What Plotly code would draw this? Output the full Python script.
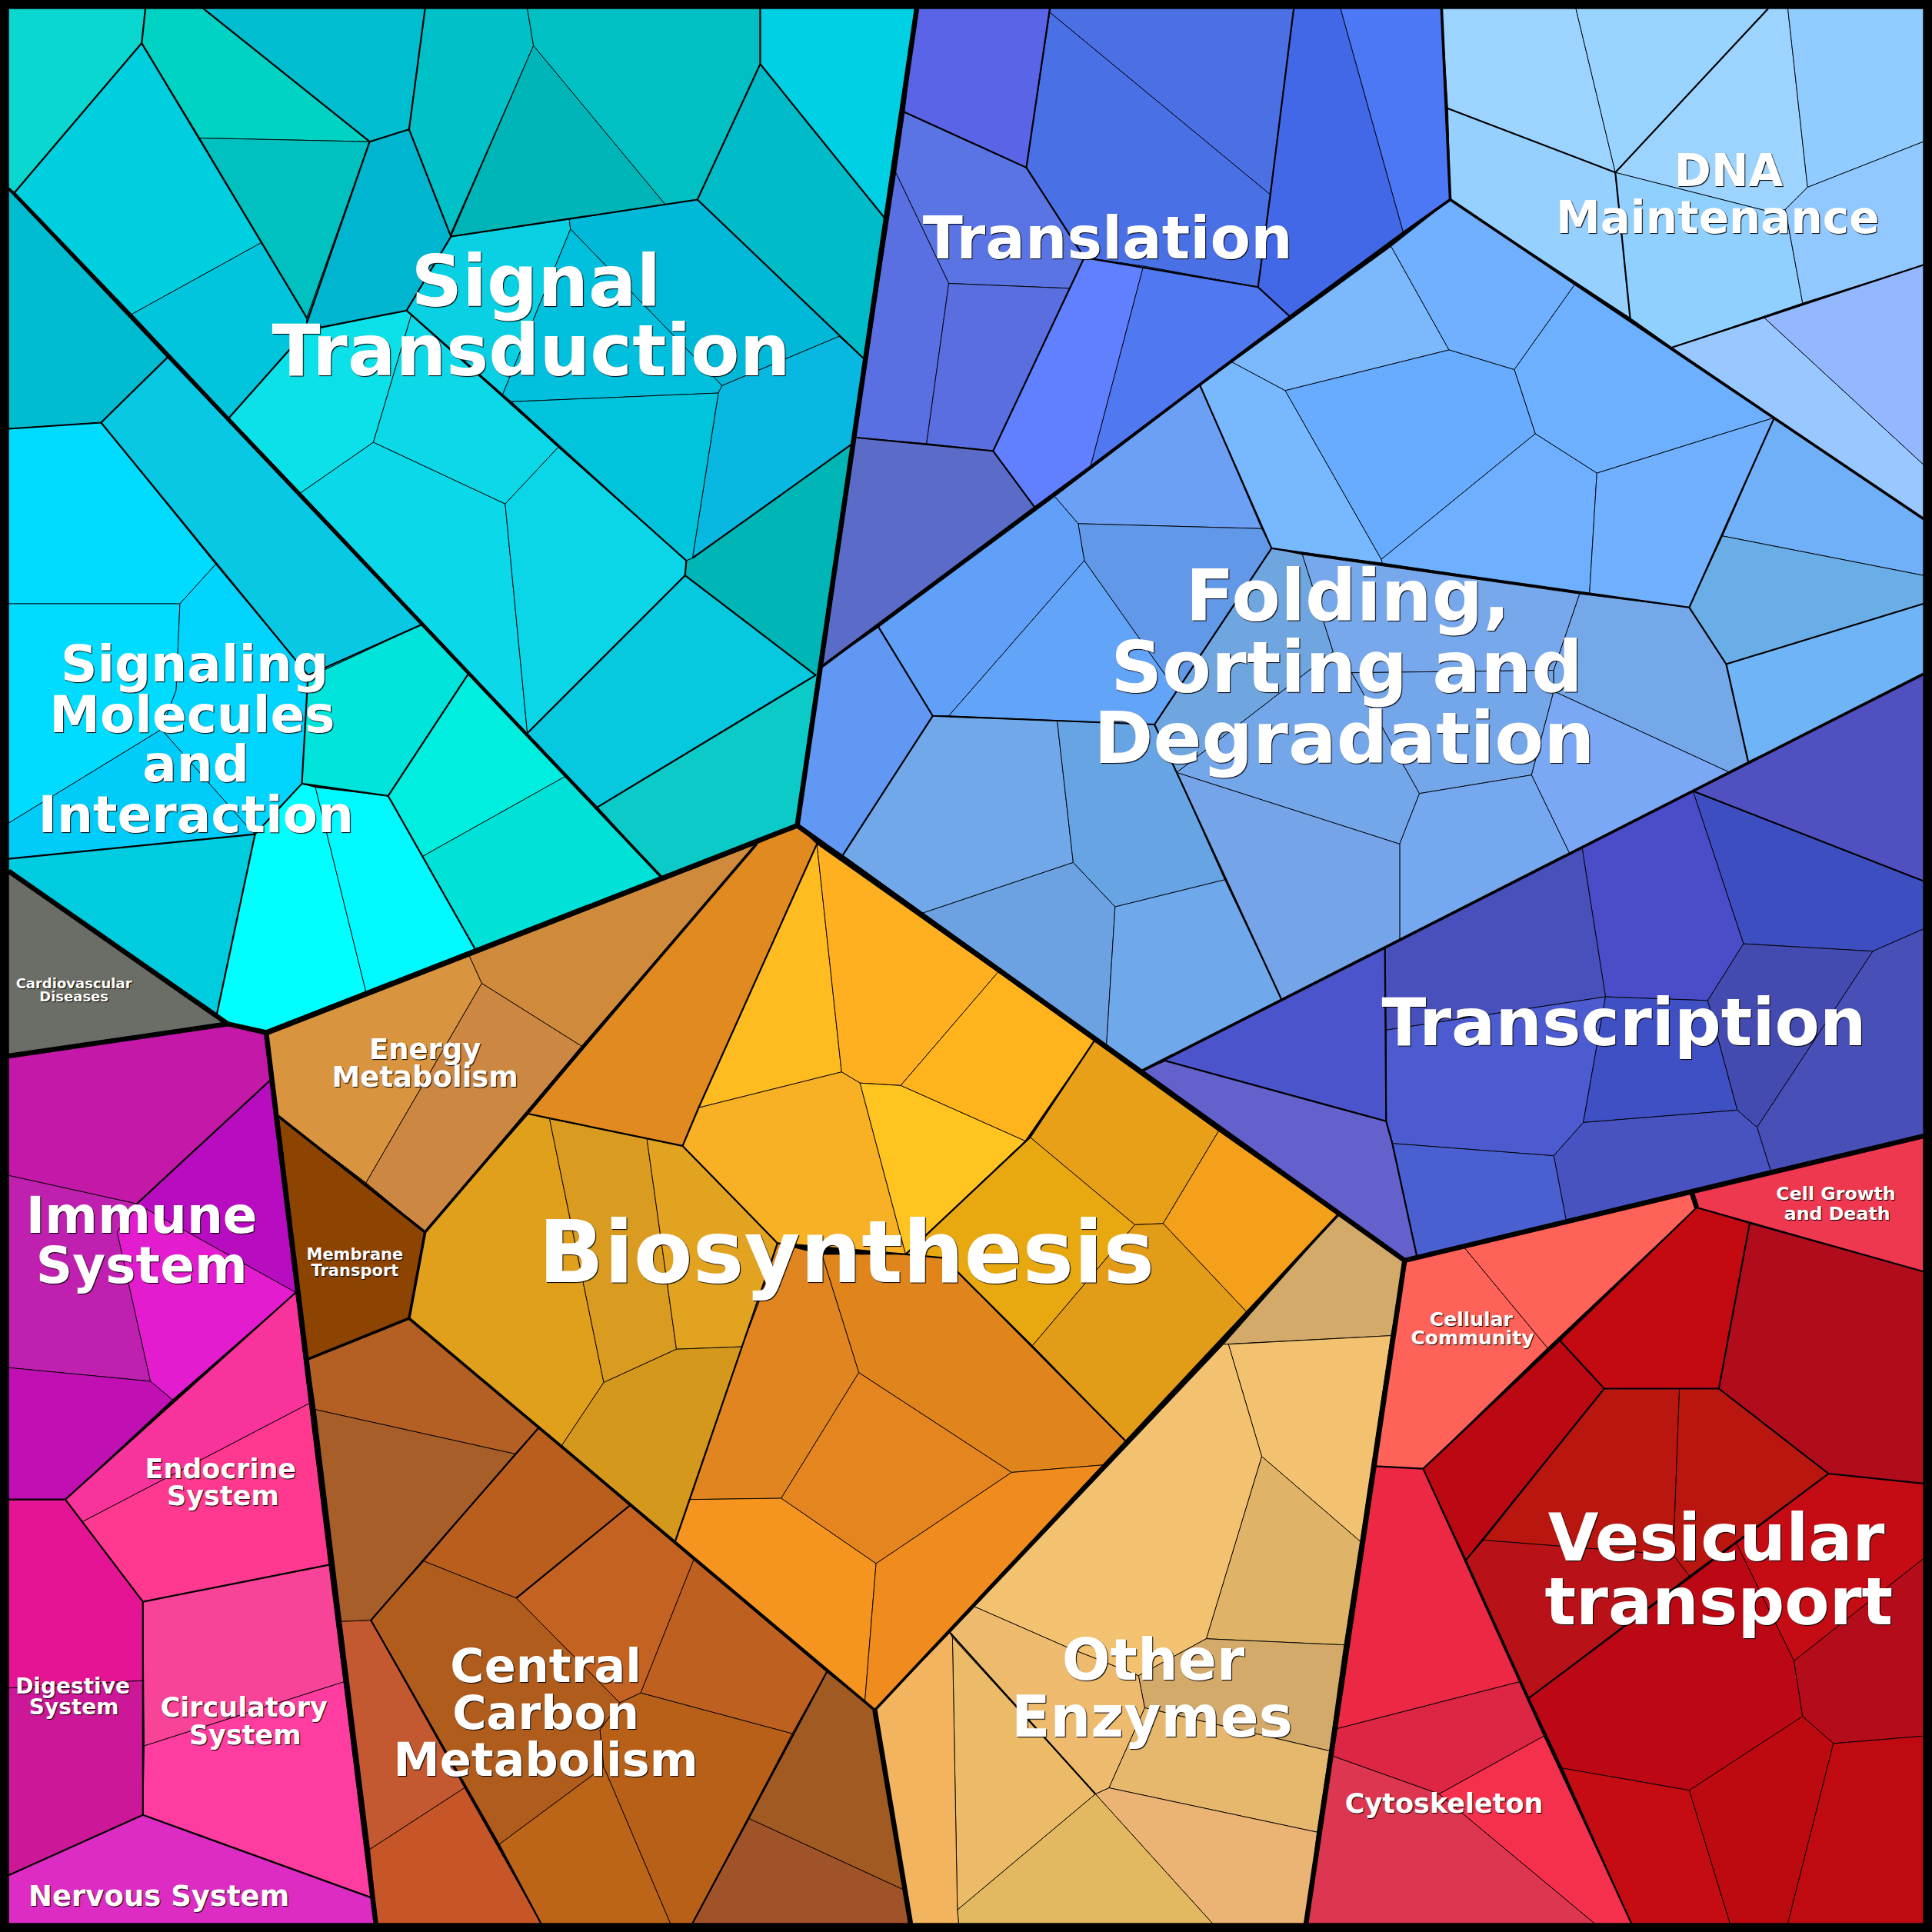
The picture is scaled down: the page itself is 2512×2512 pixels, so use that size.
import plotly.graph_objects as go

# Voronoi treemap of protein functions: each cell is (colour, outline vertices)
signal_cells = [
    ("#0ad8d0", [(7,7),(118,7),(115,35),(12,156),(7,153)]),
    ("#00d2c4", [(118,7),(165,7),(300,115),(162,112),(115,35)]),
    ("#00c0c0", [(162,112),(300,115),(249,258)]),
    ("#00cfe0", [(115,35),(162,112),(212,197),(107,255),(12,156)]),
    ("#00c5dc", [(107,255),(212,197),(249,258),(249,268),(186,339)]),
    ("#00bdd0", [(165,7),(345,7),(332,105),(300,115)]),
    ("#00b5cf", [(300,115),(332,105),(366,192),(330,252),(249,268),(249,258)]),
    ("#00c0c8", [(345,7),(428,7),(433,37),(366,189),(366,192),(332,105)]),
    ("#00b5b8", [(433,37),(540,166),(366,192)]),
    ("#00c0c4", [(428,7),(617,7),(617,52),(566,162),(540,166),(433,37)]),
    ("#00d0e4", [(617,7),(744,7),(718,177),(617,52)]),
    ("#00bcc8", [(617,52),(718,177),(701,291),(566,162)]),
    ("#0ad0e4", [(366,192),(462,178),(463,186),(408,320),(334,255),(330,252)]),
    ("#00b8d8", [(462,178),(566,162),(701,291),(681,273),(586,313),(463,186)]),
    ("#00c0de", [(463,186),(586,313),(583,319),(415,326),(408,320)]),
    ("#08b8e0", [(586,313),(681,273),(701,291),(692,360),(562,453),(583,319)]),
    ("#00c4dc", [(415,326),(583,319),(562,453),(557,455)]),
    ("#00b5b5", [(692,360),(667,545),(662,548),(556,467),(557,455),(562,453)]),
    ("#06c8de", [(556,467),(662,548),(485,655),(428,595)]),
    ("#0ccac8", [(662,548),(667,545),(647,670),(537,712),(485,655)]),
    ("#0ce0e8", [(249,268),(330,252),(334,255),(303,359),(244,400),(186,339)]),
    ("#0cd8e8", [(334,255),(453,363),(410,409),(303,359)]),
    ("#0bd8e8", [(244,400),(303,359),(410,409),(428,595)]),
    ("#0bd6e8", [(453,363),(557,455),(556,467),(428,595),(410,409)]),
]

signaling_cells = [
    ("#00bcd0", [(7,153),(136,290),(82,343),(7,348)]),
    ("#08c8e4", [(136,290),(342,507),(265,543),(250,548),(175,458),(82,343)]),
    ("#00dcff", [(7,348),(82,343),(175,458),(146,490),(7,490)]),
    ("#00dcff", [(7,490),(146,490),(143,560),(131,592),(7,668)]),
    ("#00d4ff", [(146,490),(175,458),(250,548),(245,636),(207,677),(200,670),(131,592),(143,560)]),
    ("#00ccfa", [(7,668),(131,592),(200,670),(207,677),(7,697)]),
    ("#00ccdf", [(7,697),(207,677),(176,823),(7,707)]),
    ("#00e4dc", [(265,543),(342,507),(380,547),(315,646),(245,636),(250,548)]),
    ("#00eee0", [(380,547),(459,630),(343,695),(315,646)]),
    ("#00e2d8", [(343,695),(459,630),(537,712),(386,771)]),
    ("#00ffff", [(245,636),(256,639),(297,805),(216,838),(185,831),(176,823),(207,677)]),
    ("#00f8ff", [(256,639),(315,646),(386,771),(297,805)]),
]

cardio_cells = [
    ("#6b6e66", [(7,707),(176,823),(185,831),(7,857)]),
]

translation_cells = [
    ("#5a64e6", [(744,7),(852,7),(833,136),(734,91)]),
    ("#4a70e4", [(852,7),(1050,7),(1031,158),(852,10)]),
    ("#4a70e6", [(852,10),(1031,158),(1021,233),(928,216),(880,209),(833,136)]),
    ("#4268e8", [(1050,7),(1088,7),(1139,189),(1047,257),(1021,233),(1031,158)]),
    ("#4d78f5", [(1088,7),(1170,7),(1177,162),(1139,189)]),
    ("#5a74e4", [(734,91),(833,136),(880,209),(868,234),(770,230),(727,140)]),
    ("#5a70e2", [(727,140),(770,230),(752,360),(694,355)]),
    ("#5a6ee0", [(770,230),(868,234),(806,366),(752,360)]),
    ("#6080ff", [(880,209),(928,216),(885,379),(840,412),(806,366)]),
    ("#5078f0", [(928,216),(1021,233),(1047,257),(885,379)]),
    ("#5a6cc8", [(694,355),(806,366),(840,412),(667,541)]),
]

dna_cells = [
    ("#9cd4ff", [(1170,7),(1279,7),(1311,140),(1175,88)]),
    ("#98d4ff", [(1279,7),(1435,7),(1311,140)]),
    ("#96d0ff", [(1175,88),(1311,140),(1323,258),(1177,162)]),
    ("#9cd4ff", [(1435,7),(1451,7),(1467,152),(1449,170),(1437,172),(1311,140)]),
    ("#90ccff", [(1451,7),(1561,7),(1561,115),(1467,152)]),
    ("#90d0ff", [(1311,140),(1437,172),(1449,170),(1463,246),(1357,282),(1323,258)]),
    ("#90c8ff", [(1467,152),(1561,115),(1561,215),(1463,246),(1449,170)]),
    ("#98c8ff", [(1357,282),(1432,258),(1561,377),(1561,421)]),
    ("#94b8ff", [(1432,258),(1561,215),(1561,377)]),
]

folding_cells = [
    ("#7cb8fc", [(1000,294),(1129,200),(1176,284),(1043,317)]),
    ("#70b0ff", [(1129,200),(1177,162),(1278,231),(1229,300),(1176,284)]),
    ("#6cb0ff", [(1278,231),(1440,339),(1296,384),(1246,352),(1229,300)]),
    ("#68acff", [(1043,317),(1176,284),(1229,300),(1246,352),(1121,454)]),
    ("#78b8ff", [(1000,294),(1043,317),(1121,454),(1122,457),(1032,445),(974,313)]),
    ("#6eb0ff", [(1246,352),(1296,384),(1290,482),(1122,457),(1121,454)]),
    ("#70b0ff", [(1296,384),(1440,339),(1371,493),(1290,482)]),
    ("#70b0f8", [(1440,339),(1561,421),(1561,467),(1398,435)]),
    ("#6aaee8", [(1398,435),(1561,467),(1561,490),(1401,539),(1371,493)]),
    ("#70b4f8", [(1401,539),(1561,490),(1561,547),(1419,619)]),
    ("#6ba0f4", [(974,313),(1024,429),(875,425),(856,403)]),
    ("#6298e8", [(875,425),(1024,429),(1032,445),(955,561),(880,455)]),
    ("#60a0f8", [(856,403),(875,425),(880,455),(770,581),(757,581),(713,509)]),
    ("#62a4f8", [(770,581),(880,455),(955,561),(937,588)]),
    ("#6098f4", [(667,541),(713,509),(757,581),(684,694),(647,670)]),
    ("#70a8ea", [(757,581),(858,585),(871,700),(749,741),(684,694)]),
    ("#66a4e4", [(858,585),(937,588),(955,627),(994,714),(905,736),(871,700)]),
    ("#6ca2e2", [(749,741),(871,700),(905,736),(898,848)]),
    ("#70a8ec", [(905,736),(994,714),(1040,811),(927,869),(898,848)]),
    ("#6fa6e0", [(1032,445),(1057,450),(1082,529),(955,627),(937,588)]),
    ("#78a8ec", [(1057,450),(1282,482),(1261,544),(1097,546),(1082,529)]),
    ("#74a6ea", [(1082,529),(1097,546),(1152,644),(1136,685),(955,627)]),
    ("#74a6ea", [(1097,546),(1261,544),(1261,561),(1243,629),(1152,644)]),
    ("#74a8e8", [(1282,482),(1371,493),(1401,539),(1419,619),(1404,627),(1261,561),(1261,544)]),
    ("#7aa8f4", [(1261,561),(1404,627),(1274,693),(1243,629)]),
    ("#76a8f0", [(1152,644),(1243,629),(1274,693),(1136,763),(1136,685)]),
    ("#76a4e8", [(955,627),(1136,685),(1136,763),(1040,811)]),
]

transcription_cells = [
    ("#5050c0", [(1374,642),(1561,547),(1561,715)]),
    ("#3c4ec0", [(1374,642),(1561,715),(1561,754),(1520,772),(1415,766)]),
    ("#4a4cc8", [(1284,688),(1374,642),(1415,766),(1386,812),(1303,809)]),
    ("#4850bb", [(1124,769),(1284,688),(1303,809),(1125,836)]),
    ("#4c5cd0", [(1125,836),(1303,809),(1285,911),(1261,938),(1130,928),(1125,910)]),
    ("#3f4fc4", [(1303,809),(1386,812),(1410,901),(1285,911)]),
    ("#434bb0", [(1386,812),(1415,766),(1520,772),(1426,915),(1410,901)]),
    ("#4850b8", [(1520,772),(1561,754),(1561,922),(1437,950),(1426,915)]),
    ("#4852c0", [(1285,911),(1410,901),(1426,915),(1437,950),(1271,990),(1261,938)]),
    ("#4a60d0", [(1130,928),(1261,938),(1271,990),(1150,1020)]),
    ("#4c54cc", [(927,869),(1124,769),(1125,910),(946,861)]),
    ("#6460cc", [(946,861),(1125,910),(1130,928),(1150,1020),(1140,1023),(927,869)]),
]

cell_growth_cells = [
    ("#ee3850", [(1561,922),(1561,1032),(1377,980),(1373,968)]),
]

community_cells = [
    ("#ff6258", [(1140,1023),(1188,1012),(1256,1094),(1155,1192),(1116,1190)]),
    ("#ff6258", [(1188,1012),(1373,968),(1377,980),(1256,1094)]),
]

vesicular_cells = [
    ("#c20a10", [(1377,980),(1420,993),(1395,1127),(1302,1127),(1266,1088)]),
    ("#b00c1c", [(1420,993),(1561,1032),(1561,1204),(1484,1196),(1395,1127)]),
    ("#bc0812", [(1266,1088),(1302,1127),(1190,1266),(1155,1192)]),
    ("#b8160f", [(1302,1127),(1363,1127),(1358,1262),(1204,1250)]),
    ("#ba1610", [(1363,1127),(1395,1127),(1484,1196),(1371,1279),(1358,1262)]),
    ("#b81218", [(1204,1250),(1358,1262),(1371,1279),(1241,1378),(1190,1266)]),
    ("#c50c14", [(1484,1196),(1561,1204),(1561,1265),(1456,1348),(1409,1252)]),
    ("#bc0814", [(1241,1378),(1409,1252),(1456,1348),(1463,1393),(1371,1453),(1268,1435)]),
    ("#b40c1a", [(1561,1265),(1561,1409),(1488,1415),(1463,1393),(1456,1348)]),
    ("#c40c12", [(1268,1435),(1371,1453),(1404,1561),(1324,1561)]),
    ("#bc0a10", [(1371,1453),(1463,1393),(1488,1415),(1451,1561),(1404,1561)]),
    ("#c00a12", [(1488,1415),(1561,1409),(1561,1561),(1451,1561)]),
]

cytoskeleton_cells = [
    ("#ec2844", [(1116,1190),(1155,1192),(1233,1365),(1085,1403)]),
    ("#dc2644", [(1085,1403),(1233,1365),(1253,1409),(1168,1456),(1081,1425)]),
    ("#f4304c", [(1253,1409),(1324,1561),(1294,1561),(1168,1456)]),
    ("#dc3650", [(1081,1425),(1168,1456),(1294,1561),(1060,1561)]),
]

enzyme_cells = [
    ("#d4aa6a", [(1086,986),(1140,1023),(1129,1084),(993,1091)]),
    ("#f2c270", [(997,1091),(1129,1084),(1104,1251),(1024,1182)]),
    ("#e0b468", [(1024,1182),(1104,1251),(1091,1335),(979,1330)]),
    ("#f2c270", [(993,1091),(997,1091),(1024,1182),(979,1330),(924,1360),(864,1336),(791,1304),(771,1325)]),
    ("#d4aa6a", [(979,1330),(1091,1335),(1079,1421),(929,1386),(924,1360)]),
    ("#e6b86e", [(929,1386),(1079,1421),(1069,1487),(900,1451)]),
    ("#ecb474", [(900,1451),(1069,1487),(1060,1561),(984,1561),(889,1456)]),
    ("#e2b860", [(889,1456),(984,1561),(778,1561),(777,1550)]),
    ("#eebb6e", [(771,1325),(791,1304),(864,1336),(924,1360),(929,1386),(900,1451),(889,1456),(773,1329)]),
    ("#ebbb68", [(773,1329),(889,1456),(777,1550)]),
    ("#f2b45e", [(710,1388),(771,1325),(773,1329),(777,1550),(778,1561),(739,1561)]),
]

energy_cells = [
    ("#d99440", [(217,840),(381,776),(391,798),(297,960),(226,906)]),
    ("#cc8842", [(391,798),(472,849),(345,1000),(297,960)]),
    ("#d08a3c", [(381,776),(614,685),(472,849),(391,798)]),
]

membrane_cells = [
    ("#8c4400", [(226,906),(297,960),(345,1000),(332,1070),(250,1103)]),
]

biosynthesis_cells = [
    ("#e08a20", [(614,685),(647,670),(663,685),(567,899),(554,930),(429,904)]),
    ("#ffbc20", [(663,685),(683,870),(567,899)]),
    ("#ffb020", [(663,685),(810,789),(731,881),(698,879),(683,870)]),
    ("#ffb41e", [(810,789),(888,845),(832,926),(731,881)]),
    ("#f8b024", [(567,899),(683,870),(698,879),(735,1018),(631,1009),(554,930)]),
    ("#ffc420", [(698,879),(731,881),(832,926),(735,1018)]),
    ("#e8a018", [(888,845),(989,918),(944,993),(921,994),(836,923)]),
    ("#f4a01a", [(989,918),(1086,986),(1012,1065),(944,993)]),
    ("#e8a810", [(832,926),(836,923),(921,994),(838,1092),(766,1021),(735,1018)]),
    ("#e39c18", [(921,994),(944,993),(1012,1065),(914,1170),(838,1092)]),
    ("#e0851c", [(667,1018),(735,1018),(766,1021),(914,1170),(895,1189),(821,1195),(697,1114)]),
    ("#e08520", [(631,1009),(667,1018),(697,1114),(634,1216),(560,1217),(602,1093),(617,1054)]),
    ("#e58520", [(697,1114),(821,1195),(711,1269),(634,1216)]),
    ("#f5941e", [(560,1217),(634,1216),(711,1269),(702,1380),(710,1388),(548,1251)]),
    ("#f08c1e", [(711,1269),(821,1195),(895,1189),(710,1388),(702,1380)]),
    ("#e0a01c", [(429,904),(446,908),(490,1122),(456,1173),(332,1070),(345,1000)]),
    ("#d99c20", [(446,908),(525,924),(549,1095),(490,1122)]),
    ("#e2a420", [(525,924),(554,930),(631,1009),(617,1054),(602,1093),(549,1095)]),
    ("#d4981c", [(490,1122),(549,1095),(602,1093),(548,1251),(456,1173)]),
]

carbon_cells = [
    ("#b46024", [(250,1103),(332,1070),(437,1159),(418,1180),(256,1144)]),
    ("#a85e28", [(256,1144),(418,1180),(344,1267),(301,1315),(277,1316)]),
    ("#ba5e1e", [(437,1159),(511,1222),(419,1297),(344,1267),(418,1180)]),
    ("#c46222", [(511,1222),(563,1266),(520,1374),(503,1382),(419,1297)]),
    ("#be6020", [(563,1266),(671,1357),(643,1407),(520,1374)]),
    ("#b05c1c", [(344,1267),(419,1297),(503,1382),(487,1404),(490,1434),(405,1497),(301,1315)]),
    ("#b86018", [(520,1374),(643,1407),(562,1561),(544,1561),(490,1434),(487,1404),(503,1382)]),
    ("#bc6418", [(405,1497),(490,1434),(544,1561),(439,1561)]),
    ("#a05a22", [(671,1357),(710,1388),(734,1534),(608,1476),(643,1407)]),
    ("#a05228", [(608,1476),(734,1534),(739,1561),(562,1561)]),
    ("#c45830", [(277,1316),(301,1315),(377,1451),(300,1501)]),
    ("#c65628", [(300,1501),(377,1451),(439,1561),(306,1561)]),
]

immune_cells = [
    ("#c418a8", [(7,857),(185,831),(216,838),(219,877),(111,977),(7,954)]),
    ("#b80cc0", [(219,877),(240,1049),(111,977)]),
    ("#e41ccf", [(95,1000),(111,977),(240,1049),(140,1136),(122,1121)]),
    ("#c020b0", [(7,954),(111,977),(95,1000),(122,1121),(7,1110)]),
    ("#c010b4", [(7,1110),(122,1121),(140,1136),(53,1217),(7,1217)]),
]

endocrine_cells = [
    ("#f8349c", [(240,1049),(251,1139),(67,1235),(53,1217)]),
    ("#ff3890", [(67,1235),(251,1139),(267,1270),(116,1300)]),
]

circulatory_cells = [
    ("#f84498", [(116,1300),(267,1270),(279,1365),(117,1417)]),
    ("#ff3ca0", [(117,1417),(279,1365),(301,1540),(116,1473)]),
]

digestive_cells = [
    ("#e41494", [(7,1217),(53,1217),(116,1300),(116,1364),(7,1370)]),
    ("#cc1898", [(7,1370),(116,1364),(116,1473),(7,1522)]),
]

nervous_cells = [
    ("#dc2cc4", [(7,1522),(116,1473),(301,1540),(305,1561),(7,1561)]),
]

all_cells = (signal_cells + signaling_cells + cardio_cells + translation_cells + dna_cells
             + folding_cells + transcription_cells + cell_growth_cells + community_cells
             + vesicular_cells + cytoskeleton_cells + enzyme_cells + energy_cells
             + membrane_cells + biosynthesis_cells + carbon_cells + immune_cells
             + endocrine_cells + circulatory_cells + digestive_cells + nervous_cells)

# boundaries between pathway groups
mid_edges = [
    [(118,7),(115,35),(12,156)], [(115,35),(249,258)], [(165,7),(300,115),(249,262)],
    [(345,7),(332,105),(300,115)], [(332,105),(366,192),(566,162),(617,52),(617,7)],
    [(566,162),(701,291)], [(617,52),(718,177)],
    [(366,192),(330,252),(557,455),(556,467),(428,595)], [(186,339),(249,268),(330,252)],
    [(556,467),(662,548)], [(485,655),(662,548)], [(562,453),(692,360)],
    [(136,290),(82,343),(7,348)], [(82,343),(250,548),(245,636),(207,677),(7,697)],
    [(207,677),(176,823)], [(250,548),(342,507)], [(380,547),(315,646),(245,636)], [(315,646),(386,771)],
    [(734,91),(833,136),(852,7)], [(1050,7),(1031,158),(1021,233),(1047,257)],
    [(833,136),(880,209),(806,366),(694,355)], [(880,209),(1021,233)], [(806,366),(840,412)],
    [(1175,88),(1311,140),(1435,7)], [(1311,140),(1323,258)], [(1357,282),(1561,215)],
    [(974,313),(1032,445),(937,588),(757,581),(713,509)], [(757,581),(684,694)],
    [(937,588),(955,627),(1040,811)], [(1032,445),(1371,493),(1440,339)], [(1371,493),(1401,539),(1561,490)],
    [(1401,539),(1419,619)], [(1124,769),(1125,910),(946,861)], [(1125,910),(1130,928),(1150,1020)],
    [(1374,642),(1561,715)],
    [(1377,980),(1266,1088),(1155,1192),(1324,1561)], [(1155,1192),(1116,1190)],
    [(1266,1088),(1302,1127),(1190,1266)], [(1302,1127),(1395,1127),(1420,993)],
    [(1395,1127),(1484,1196),(1561,1204)], [(1484,1196),(1241,1378)], [(1377,980),(1561,1032)],
    [(429,904),(554,930),(567,899),(663,685)], [(554,930),(631,1009),(735,1018),(766,1021),(914,1170)],
    [(631,1009),(548,1251)], [(888,845),(836,923),(735,1018)],
    [(219,877),(111,977)], [(240,1049),(53,1217),(7,1217)], [(53,1217),(116,1300),(116,1473),(301,1540)],
    [(116,1473),(7,1522)], [(116,1300),(267,1270)],
    [(437,1159),(301,1315),(405,1497),(439,1561)], [(671,1357),(562,1561)], [(511,1222),(419,1297)],
    [(771,1325),(889,1456)],
]

# boundaries one level up, between the big categories
heavy_edges = [
    [(7,153),(537,712)], [(1170,7),(1177,162),(1561,421)],
    [(1177,162),(1139,189),(1047,257),(885,379),(840,412),(667,541)],
    [(927,869),(1561,547)], [(614,685),(345,1000),(332,1070),(710,1388),(1086,986)],
    [(226,906),(345,1000)], [(250,1103),(332,1070)],
]

# thickest boundaries
top_edges = [
    [(744,7),(647,670),(1140,1023),(1060,1561)], [(647,670),(216,838),(185,831),(7,707)],
    [(185,831),(7,857)], [(216,838),(305,1561)], [(1140,1023),(1561,922)], [(1373,968),(1377,980)],
    [(710,1388),(739,1561)],
]

# text, x, y, font size
label_lines = [
    ("Signal", 435, 234, 92.5), ("Transduction", 431, 290, 92.5),
    ("Translation", 899, 198, 76.5),
    ("DNA", 1403, 142, 58), ("Maintenance", 1394, 180, 58),
    ("Folding,", 1094, 489, 93), ("Sorting and", 1093, 547, 93), ("Degradation", 1091, 605, 93),
    ("Transcription", 1318, 835, 85),
    ("Signaling", 158, 543, 66), ("Molecules", 156, 584, 66), ("and", 159, 624, 66), ("Interaction", 159, 665, 66),
    ("Biosynthesis", 687, 1023, 112),
    ("Vesicular", 1393, 1253, 85), ("transport", 1395, 1305, 85),
    ("Other", 936, 1352, 74), ("Enzymes", 935, 1398, 74),
    ("Central", 443, 1356, 60.5), ("Carbon", 443, 1394, 60.5), ("Metabolism", 443, 1432, 60.5),
    ("Immune", 115, 990, 66), ("System", 115, 1031, 66),
    ("Energy", 345, 854, 37), ("Metabolism", 345, 876, 37),
    ("Endocrine", 179, 1194, 35), ("System", 181, 1216, 35),
    ("Circulatory", 198, 1388, 35), ("System", 199, 1410, 35),
    ("Digestive", 59, 1370, 28), ("System", 60, 1387, 28),
    ("Nervous System", 129, 1541, 37),
    ("Cytoskeleton", 1172, 1466, 35),
    ("Cellular", 1194, 1072, 25), ("Community", 1195, 1087, 25),
    ("Cell Growth", 1490, 970, 23.7), ("and Death", 1491, 986, 23.7),
    ("Membrane", 288, 1019, 21), ("Transport", 288, 1032, 21),
    ("Cardiovascular", 60, 799, 18), ("Diseases", 60, 810, 18),
]

fig = go.Figure()

for colour, verts in all_cells:
    xs = [v[0] for v in verts] + [verts[0][0]]
    ys = [v[1] for v in verts] + [verts[0][1]]
    fig.add_trace(go.Scatter(x=xs, y=ys, mode="lines", fill="toself", fillcolor=colour,
                             line=dict(color="#000000", width=0.9), hoverinfo="skip"))

for edges, w in [(mid_edges, 2.2), (heavy_edges, 3.6), (top_edges, 6.5)]:
    for edge in edges:
        fig.add_trace(go.Scatter(x=[v[0] for v in edge], y=[v[1] for v in edge], mode="lines",
                                 line=dict(color="#000000", width=w), hoverinfo="skip"))

for text, x, y, size in label_lines:
    fig.add_trace(go.Scatter(x=[x], y=[y], mode="text", text=[text], textposition="middle center",
                             textfont=dict(family="DejaVu Sans", size=size, color="#ffffff", weight="bold",
                                           shadow="1px 1px 1px #000000"),
                             hoverinfo="skip"))

fig.update_layout(
    width=2512, height=2512, margin=dict(l=0, r=0, t=0, b=0),
    paper_bgcolor="#000000", plot_bgcolor="#000000", showlegend=False,
    xaxis=dict(range=[0, 1568], visible=False),
    yaxis=dict(range=[1568, 0], visible=False),
)

# the page's default body margin would push the figure off the frame
fig.write_html("out.html", config={"displayModeBar": False},
               post_script="document.body.style.margin='0';document.body.style.background='#000';")
